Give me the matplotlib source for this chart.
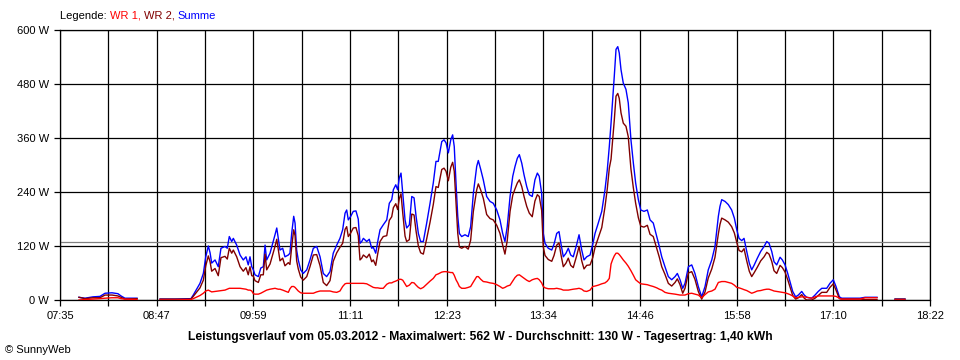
import numpy as np
import matplotlib
matplotlib.use("Agg")
import matplotlib.pyplot as plt

# time of each reading, minutes after midnight (nan = no data)
minute = [
    469.1, 473.6, 479.5, 484.7, 488.5, 493.7, 498.1, 500.4, 503.3, 512.3, 520.4,
    529.4, 540.5, 552.4, 554.1, 559.1, 561.6, 563.4, 565.3, 566.6, 567.8, 570.3,
    572.7, 574.7, 577.7, 579.4, 580.9, 582.7, 583.9, 586.4, 588.9, 591.3, 593.3,
    595.0, 596.3, 597.6, 598.8, 600.0, 602.5, 604.3, 606.2, 607.5, 608.7, 611.2,
    613.2, 614.9, 616.2, 617.3, 618.6, 620.6, 622.3, 624.8, 626.0, 627.3, 628.8,
    629.8, 631.0, 632.2, 634.0, 635.9, 638.5, 640.9, 643.4, 645.9, 648.4, 650.8,
    653.3, 655.8, 658.2, 660.8, 663.2, 665.2, 667.0, 668.2, 669.4, 671.2, 673.1,
    675.1, 676.8, 678.1, 679.4, 680.6, 683.1, 685.0, 686.8, 688.0, 689.8, 691.3,
    693.0, 695.4, 698.0, 699.9, 701.7, 702.9, 704.7, 706.1, 707.3, 708.6, 709.9,
    711.6, 712.8, 714.8, 716.6, 718.3, 719.8, 721.5, 723.2, 725.2, 727.7, 730.2,
    732.6, 734.6, 736.3, 738.9, 740.6, 742.1, 743.8, 745.6, 747.0, 748.2, 749.5,
    750.8, 752.0, 753.7, 756.2, 758.6, 760.4, 762.4, 764.9, 766.1, 767.9, 769.8,
    772.3, 774.8, 777.2, 779.8, 782.2, 784.2, 785.9, 787.6, 789.7, 791.7, 793.4,
    795.1, 796.6, 798.4, 800.1, 802.1, 804.0, 806.2, 808.2, 810.0, 811.4, 813.2,
    814.4, 815.7, 818.1, 820.7, 822.4, 824.4, 826.1, 827.6, 829.3, 831.3, 833.0,
    834.8, 836.7, 839.3, 841.0, 843.0, 844.7, 846.7, 849.2, 851.2, 852.9, 855.3,
    857.9, 860.3, 862.0, 863.5, 864.8, 866.0, 867.2, 868.5, 869.8, 870.9, 872.2,
    873.9, 875.9, 877.6, 879.6, 881.4, 883.1, 885.1, 886.9, 889.3, 891.8, 893.8,
    896.2, 898.8, 900.7, 902.5, 904.9, 907.4, 909.9, 912.4, 914.1, 916.1, 918.1,
    919.8, 922.3, 924.8, 927.2, 929.7, 932.2, 934.7, 937.1, 939.7, 942.1, 944.6,
    945.8, 947.1, 949.6, 952.0, 954.5, 956.5, 958.3, 960.0, 962.0, 963.7, 965.7,
    967.6, 969.4, 971.3, 973.6, 976.1, 978.6, 980.6, 982.3, 984.3, 986.0, 988.0,
    990.5, 992.2, 994.2, 996.2, 997.9, 999.9, 1002.1, 1004.1, 1006.6, 1008.5,
    1010.3, 1014.0, 1016.5, 1018.9, 1021.5, 1025.2, 1027.6, 1030.1, 1032.1,
    1034.6, 1036.3, 1049.9, 1053.7, 1062.6, 1069.3, 1076.0, 1083.4,
]

# WR 1 (W)
wr1 = [
    0, 1, 2, 3, 4, 5, 5, 3, 2, 1, np.nan,
    0, 0, 1, 3, 10, 15, 20, 22, 20, 18, 19,
    20, 21, 22, 24, 26, 26, 26, 26, 26, 25, 24,
    22, 22, 20, 14, 13, 13, 15, 18, 20, 22, 24,
    25, 26, 25, 24, 24, 22, 20, 17, 25, 30, 30,
    28, 24, 20, 16, 15, 15, 15, 15, 18, 20, 20,
    20, 20, 18, 17, 20, 30, 36, 37, 37, 37, 37,
    37, 37, 37, 37, 37, 36, 33, 30, 28, 27, 27,
    26, 26, 35, 38, 38, 40, 42, 44, 46, 46, 44,
    36, 30, 33, 39, 38, 33, 28, 25, 28, 35, 42,
    48, 56, 58, 62, 63, 63, 62, 61, 61, 55, 45,
    38, 30, 26, 26, 28, 30, 40, 52, 52, 46, 41,
    40, 38, 37, 34, 30, 26, 28, 31, 33, 42, 50,
    55, 56, 52, 48, 44, 41, 45, 47, 48, 45, 38,
    30, 27, 25, 25, 25, 26, 25, 24, 22, 22, 22,
    23, 24, 25, 26, 24, 20, 19, 22, 30, 31, 33,
    36, 38, 42, 48, 80, 90, 98, 104, 104, 101, 96,
    89, 82, 75, 65, 55, 45, 40, 36, 35, 34, 32,
    30, 27, 24, 22, 17, 15, 14, 13, 12, 11, 11,
    11, 14, 15, 13, 11, 5, 12, 18, 20, 24, 39,
    40, 41, 41, 39, 37, 33, 28, 27, 25, 23, 21,
    18, 15, 17, 20, 21, 23, 24, 24, 22, 20, 19,
    18, 17, 16, 14, 12, 9, 5, 6, 7, 7,
    6, 4, 7, 9, 9, 9, 9, 9, 8,
    4, 2, 2, 5, 5, np.nan, 0, 0,
]

# WR 2 (W)
wr2 = [
    6, 3, 5, 5, 11, 11, 9, 6, 2, 3, np.nan,
    2, 2, 2, 8, 27, 44, 76, 98, 85, 64, 70,
    54, 94, 97, 91, 115, 104, 111, 96, 74, 64, 72,
    56, 74, 54, 53, 43, 39, 56, 56, 102, 67, 80,
    101, 119, 135, 113, 87, 93, 76, 83, 79, 118, 156,
    143, 87, 69, 51, 44, 52, 74, 100, 101, 76, 39,
    32, 43, 86, 105, 117, 126, 157, 163, 141, 149, 160,
    161, 143, 89, 93, 100, 94, 102, 85, 89, 77, 103,
    130, 141, 143, 177, 185, 205, 214, 201, 225, 236, 193,
    142, 130, 134, 191, 189, 153, 120, 105, 102, 136, 173,
    212, 252, 250, 290, 293, 286, 265, 295, 306, 286, 215,
    148, 118, 115, 119, 113, 133, 197, 245, 258, 244, 226,
    190, 181, 178, 166, 148, 122, 102, 132, 197, 233, 247,
    260, 267, 252, 230, 208, 193, 185, 220, 234, 230, 199,
    118, 99, 90, 86, 99, 122, 127, 100, 74, 82, 93,
    77, 72, 99, 119, 87, 69, 77, 78, 94, 117, 138,
    161, 207, 247, 293, 313, 355, 399, 453, 459, 448, 416,
    393, 386, 363, 291, 249, 215, 183, 164, 162, 166, 146,
    141, 114, 95, 74, 57, 37, 31, 39, 47, 34, 15,
    26, 60, 63, 46, 19, 2, 18, 49, 69, 95, 147,
    168, 182, 178, 173, 163, 149, 128, 110, 107, 114, 87,
    64, 52, 61, 73, 87, 96, 106, 102, 86, 65, 59,
    77, 72, 62, 45, 29, 10, 2, 5, 12, 4,
    0, 0, 4, 10, 17, 17, 28, 36, 22,
    3, 2, 2, 1, 1, np.nan, 2, 2,
]

summe = np.array(wr1) + np.array(wr2)

average = 130  # Durchschnitt (W)

x_labels = ["07:35", "08:47", "09:59", "11:11", "12:23",
            "13:34", "14:46", "15:58", "17:10", "18:22"]
y_ticks = [0, 120, 240, 360, 480, 600]

legend_parts = [("Legende: ", "black"), ("WR 1, ", "#ff0000"),
                ("WR 2, ", "#800000"), ("Summe", "#0000ff")]

title = ("Leistungsverlauf vom 05.03.2012 - Maximalwert: 562 W - "
         "Durchschnitt: 130 W - Tagesertrag: 1,40 kWh")

plt.rcParams["font.family"] = ["Liberation Sans", "DejaVu Sans"]

fig = plt.figure(figsize=(9.6, 3.6), dpi=100)
ax = fig.add_axes([60 / 960, 1 - 300 / 360, 870 / 960, 270 / 360])

t0, t1 = 455, 1102
ax.set_xlim(t0, t1)
ax.set_ylim(0, 600)

# grid: 18 columns, a label on every second line
grid_x = np.linspace(t0, t1, 19)
for gx in grid_x:
    ax.axvline(gx, color="black", lw=0.9, zorder=1)
for gy in y_ticks:
    ax.axhline(gy, color="black", lw=0.9, zorder=1)
ax.axhline(average, color="#808080", lw=0.9, zorder=1.5)

ax.plot(minute, summe, color="#0000ff", lw=1.0, zorder=2.5)
ax.plot(minute, wr2, color="#800000", lw=1.0, zorder=3)
ax.plot(minute, wr1, color="#ff0000", lw=1.0, zorder=4)

tick_text = []
for lab in x_labels:
    tick_text += [lab, ""]
ax.set_xticks(grid_x)
ax.set_xticklabels(tick_text[:19])
ax.set_yticks(y_ticks)
ax.set_yticklabels([f"{v} W" for v in y_ticks])
ax.tick_params(axis="both", direction="out", length=4, width=0.9,
               labelsize=8, colors="black", pad=4)
for s in ax.spines.values():
    s.set_color("black")
    s.set_linewidth(0.9)

# coloured legend text at the top
fig.canvas.draw()
renderer = fig.canvas.get_renderer()
x_pos = 60
for part, col in legend_parts:
    t = fig.text(x_pos / 960, 1 - 16 / 360, part, fontsize=8, color=col,
                 va="center")
    x_pos += t.get_window_extent(renderer).width

fig.text(0.5, 1 - 337 / 360, title, fontsize=8.7, fontweight="bold",
         ha="center", va="center")
fig.text(5 / 960, 1 - 350 / 360, "\u00a9 SunnyWeb", fontsize=8,
         ha="left", va="center")

fig.savefig("out.png", dpi=100, facecolor="white")
